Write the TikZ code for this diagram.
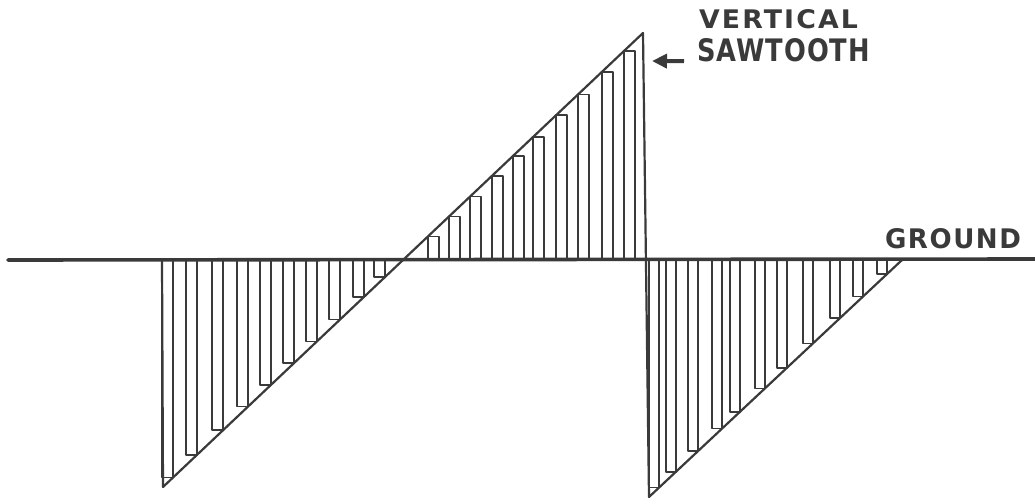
\documentclass[tikz,border=0pt]{standalone}
\usepackage{fontspec}
\setsansfont{DejaVu Sans}
\usetikzlibrary{arrows.meta}
\definecolor{ink}{HTML}{3A3A3A}
\begin{document}
\begin{tikzpicture}[x=0.5pt,y=-0.5pt, line join=round, line cap=round,
  wave/.style={draw=ink, line width=1.1pt},
  stripline/.style={draw=ink, line width=0.8pt},
  groundline/.style={draw=ink, line width=1.8pt},
  lbl/.style={inner sep=0pt, outer sep=0pt, text=ink},
  pointer/.style={draw=ink, line width=2pt, line cap=butt, -{Triangle[length=7.5pt,width=7pt]}}]
\useasboundingbox (0,0) rectangle (1035,504);
% sawtooth outline corners
\coordinate (s0) at (162,260);
\coordinate (b1) at (163,487);
\coordinate (apex) at (643,33);
\coordinate (b2) at (649,497);
\coordinate (e) at (902,260);
% region 1 strips (negative, bottom cap at diagonal on the right edge)
\foreach \a in {162,186,212,237,260,283,306,329,353,374}{
  \pgfmathsetmacro{\yb}{487-(\a+11-163)/480*454}
  \draw[stripline] (\a,260) -- (\a,\yb) -- (\a+11,\yb) -- (\a+11,260);
}
% region 2 strips (positive, top cap at diagonal on the left edge)
\foreach \a in {428,449,470,492,513,533,556,578,602,624}{
  \pgfmathsetmacro{\yt}{487-(\a-163)/480*454}
  \draw[stripline] (\a,260) -- (\a,\yt) -- (\a+11,\yt) -- (\a+11,260);
}
% region 3 strips
\foreach \a in {649,666,688,712,730,755,777,803,830,853,877}{
  \pgfmathsetmacro{\yb}{497-(\a+10-649)/253*237}
  \draw[stripline] (\a,260) -- (\a,\yb) -- (\a+10,\yb) -- (\a+10,260);
}
\draw[wave] (s0) -- (b1) -- (apex) -- (b2) -- (e);
% ground
\coordinate (gl) at (8,260);
\coordinate (gr) at (1035,259);
\draw[groundline] (gl) -- (gr);
% labels
\node[lbl, anchor=north west] (vert) at (699,9)
  {\resizebox{79.5pt}{9.5pt}{\sffamily\bfseries\addfontfeature{LetterSpace=8}VERTICAL}};
\node[lbl, anchor=north west] (saw) at (697,38)
  {\resizebox{86.5pt}{11.5pt}{\sffamily\bfseries\addfontfeature{LetterSpace=4}SAWTOOTH}};
\node[lbl, anchor=north west] (gnd) at (885,228)
  {\resizebox{68pt}{10pt}{\sffamily\bfseries\addfontfeature{LetterSpace=6}GROUND}};
\coordinate (atip) at (652,61);
\draw[pointer] ([xshift=-6.5pt,yshift=-5.75pt]saw.west) -- (atip);
\end{tikzpicture}
\end{document}
